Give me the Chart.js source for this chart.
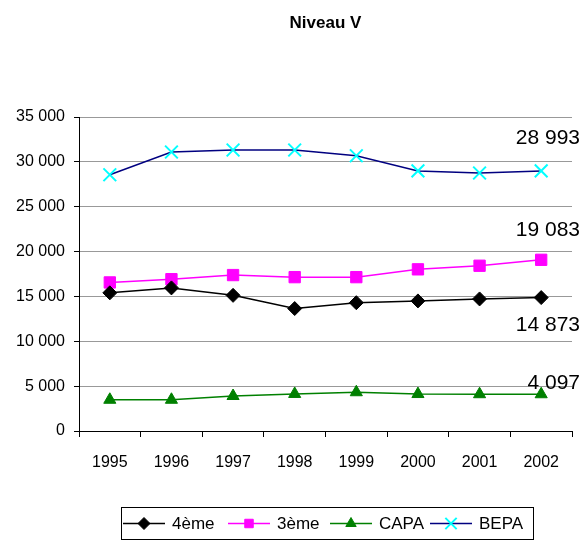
<!DOCTYPE html>
<html><head><meta charset="utf-8">
<script src="https://cdn.jsdelivr.net/npm/chart.js@4/dist/chart.umd.min.js"></script>
<style>html,body{margin:0;padding:0;background:#fff}#wrap{width:584px;height:541px}</style>
</head><body><div id="wrap"><canvas id="c" width="584" height="541"></canvas></div>
<script>
const years = ["1995","1996","1997","1998","1999","2000","2001","2002"];
const quatrieme = [15400, 15950, 15120, 13650, 14300, 14500, 14720, 14873];
const troisieme = [16560, 16920, 17380, 17150, 17150, 18020, 18420, 19083];
const capa = [3480, 3480, 3900, 4130, 4320, 4120, 4100, 4097];
const bepa = [28560, 31100, 31320, 31320, 30680, 28990, 28760, 28993];
const seriesNames = ["4ème", "3ème", "CAPA", "BEPA"];
const yTicks = [0, 5000, 10000, 15000, 20000, 25000, 30000, 35000];
const chartTitle = "Niveau V";

const FONT = "'Liberation Sans', Arial, sans-serif";
const fmt = v => String(Math.round(v)).replace(/\B(?=(\d{3})+(?!\d))/g, " ");

const styles = [
  {border:"#000000", fill:"#000000", pointStyle:"rectRot", r:7, pw:1},
  {border:"#ff00ff", fill:"#ff00ff", pointStyle:"rect", r:8, pw:1},
  {border:"#008000", fill:"#008000", pointStyle:"triangle", r:7, pw:1},
  {border:"#000080", fill:"#00ffff", pointStyle:"crossRot", r:9, pw:2}
];
const allData = [quatrieme, troisieme, capa, bepa];

const datasets = allData.map((d, i) => ({
  label: seriesNames[i],
  data: d,
  borderColor: styles[i].border,
  borderWidth: 1.5,
  pointStyle: styles[i].pointStyle,
  pointRadius: styles[i].r,
  pointBackgroundColor: styles[i].fill,
  pointBorderColor: styles[i].fill,
  pointBorderWidth: styles[i].pw,
  tension: 0,
  fill: false
}));

const labelDy = [28, -30, -11, -33];

const extras = {
  id: "extras",
  afterDraw(chart) {
    const ctx = chart.ctx;
    const ca = chart.chartArea;
    ctx.save();
    ctx.fillStyle = "#000";
    ctx.font = "bold 17px " + FONT;
    ctx.textAlign = "center";
    ctx.textBaseline = "middle";
    ctx.fillText(chartTitle, (ca.left + ca.right) / 2, 23);
    ctx.font = "21px " + FONT;
    ctx.textAlign = "right";
    chart.data.datasets.forEach((ds, i) => {
      const meta = chart.getDatasetMeta(i);
      const p = meta.data[meta.data.length - 1];
      ctx.fillText(fmt(ds.data[ds.data.length - 1]), 580, p.y + labelDy[i]);
    });
    const lx = 121, ly = 507, lw = 412, lh = 32;
    ctx.strokeStyle = "#000";
    ctx.lineWidth = 1;
    ctx.strokeRect(lx + 0.5, ly + 0.5, lw, lh);
    const itemX = [123, 228, 330, 430];
    ctx.font = "17px " + FONT;
    ctx.textAlign = "left";
    const cy = ly + lh / 2 + 0.5;
    chart.data.datasets.forEach((ds, i) => {
      const x0 = itemX[i];
      ctx.strokeStyle = ds.borderColor;
      ctx.lineWidth = 1.5;
      ctx.beginPath(); ctx.moveTo(x0, cy); ctx.lineTo(x0 + 42, cy); ctx.stroke();
      ctx.fillStyle = ds.pointBackgroundColor;
      ctx.strokeStyle = ds.pointBorderColor;
      ctx.lineWidth = ds.pointBorderWidth;
      const r = ds.pointStyle === "crossRot" ? 8 : 6;
      Chart.helpers.drawPoint(ctx, { pointStyle: ds.pointStyle, rotation: 0, borderWidth: ds.pointBorderWidth, radius: r }, x0 + 21, cy);
      ctx.fillStyle = "#000";
      ctx.fillText(ds.label, x0 + 49, cy + 1);
    });
    ctx.restore();
  }
};

new Chart(document.getElementById("c"), {
  type: "line",
  data: { labels: years, datasets },
  options: {
    responsive: false,
    animation: false,
    devicePixelRatio: 1,
    layout: { padding: { top: 117, right: 12, left: 0, bottom: 0 } },
    plugins: { legend: { display: false }, title: { display: false }, tooltip: { enabled: false } },
    scales: {
      x: {
        offset: true,
        grid: { offset: true, drawOnChartArea: false, drawTicks: true, tickLength: 6, color: "#000" },
        border: { color: "#000", width: 1 },
        ticks: { color: "#000", font: { family: FONT, size: 16 }, padding: 16, maxRotation: 0 },
        afterFit(s) { s.height = 110; }
      },
      y: {
        min: 0, max: 35000,
        afterBuildTicks(s) { s.ticks = yTicks.map(v => ({ value: v })); },
        grid: { color: "#999", drawTicks: true, tickLength: 5, tickColor: "#000" },
        border: { color: "#000", width: 1 },
        ticks: { color: "#000", font: { family: FONT, size: 16 }, padding: 9, callback: v => fmt(v) },
        afterFit(s) { s.width = 79; }
      }
    }
  },
  plugins: [extras]
});
</script>
</body></html>
